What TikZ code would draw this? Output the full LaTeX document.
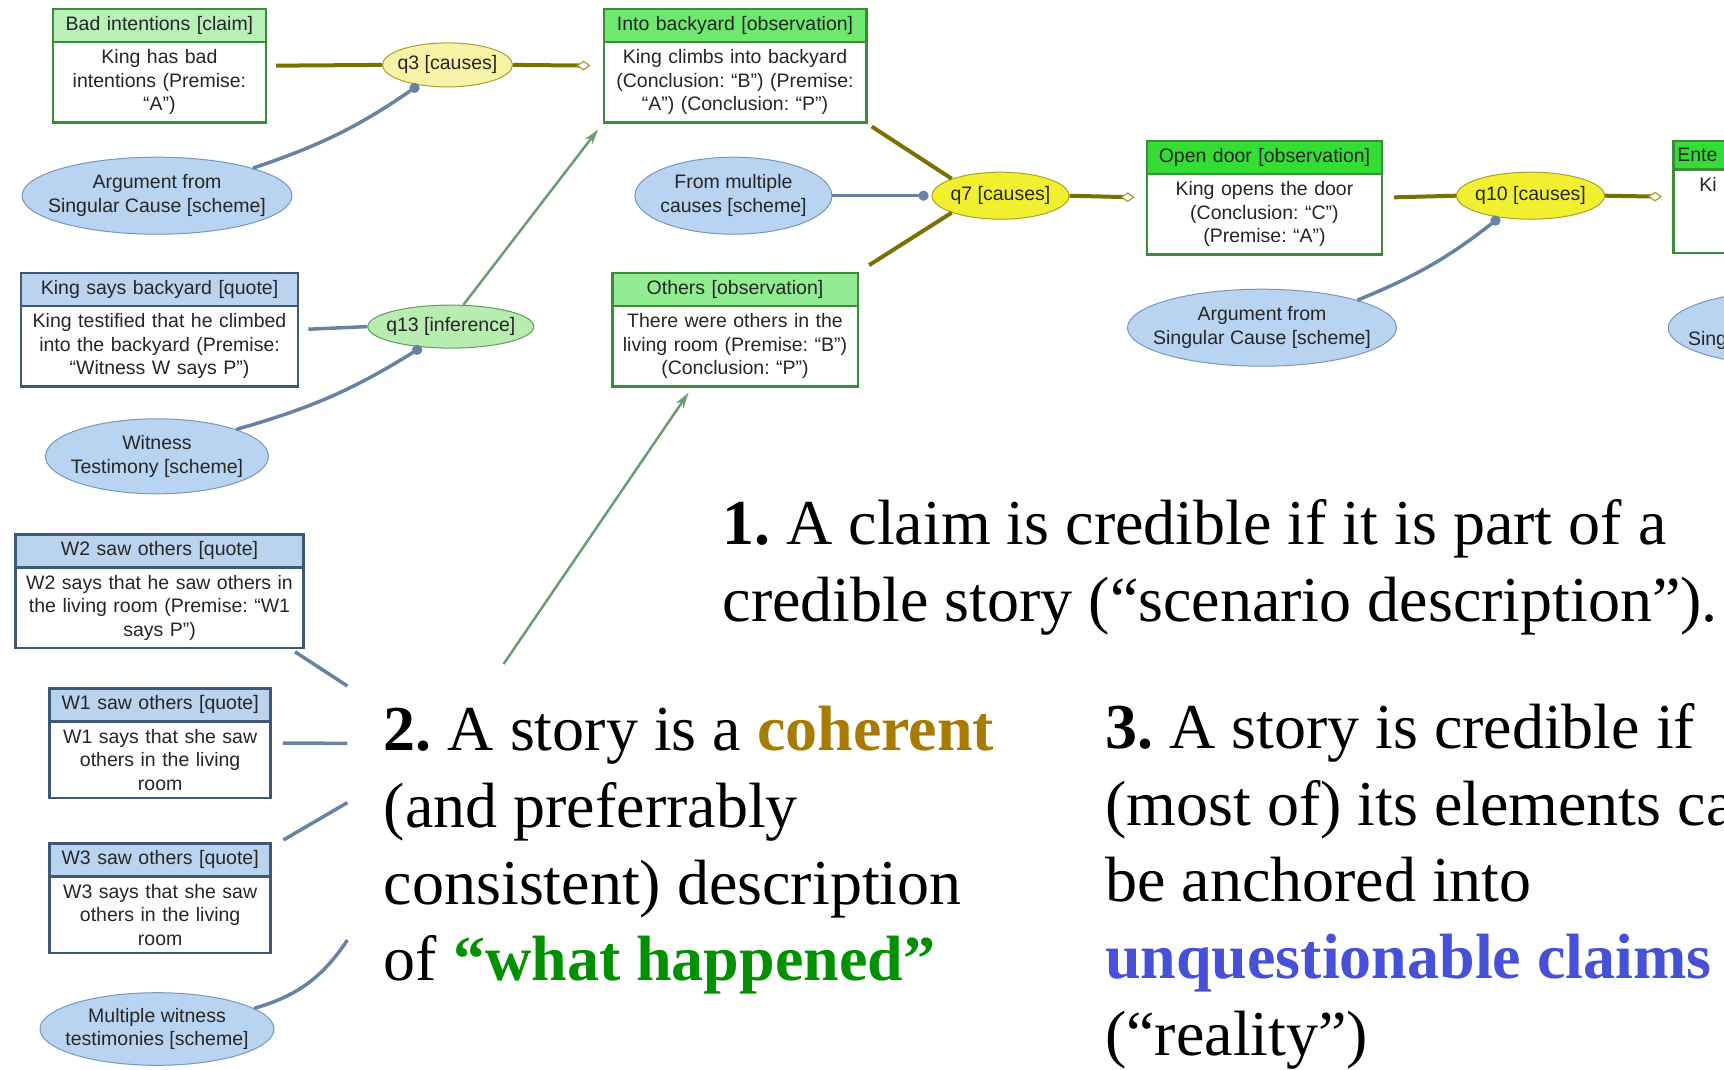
\documentclass[tikz,border=0pt]{standalone}
\usepackage{fontspec}
\setmainfont{Liberation Serif}
\newfontfamily\diagfont{Liberation Sans}
\usepackage{xcolor}
\definecolor{olivelink}{RGB}{122,114,0}
\definecolor{steellink}{RGB}{104,130,164}
\definecolor{greenlink}{RGB}{108,156,116}
\definecolor{claimhead}{RGB}{184,240,184}
\definecolor{obshead}{RGB}{110,232,110}
\definecolor{obsbright}{RGB}{51,221,51}
\definecolor{obslight}{RGB}{146,236,146}
\definecolor{boxgreen}{RGB}{60,140,60}
\definecolor{quotehead}{RGB}{186,212,240}
\definecolor{quoteline}{RGB}{64,88,120}
\definecolor{schemefill}{RGB}{184,212,240}
\definecolor{schemeline}{RGB}{120,150,192}
\definecolor{causepale}{RGB}{246,242,166}
\definecolor{causeyellow}{RGB}{240,240,48}
\definecolor{causeline}{RGB}{170,160,40}
\definecolor{inferfill}{RGB}{184,236,176}
\definecolor{inferline}{RGB}{90,160,90}
\definecolor{coherentcol}{RGB}{168,122,0}
\definecolor{happenedcol}{RGB}{0,144,0}
\definecolor{claimscol}{RGB}{70,80,216}
\usepackage{tikz}
\usetikzlibrary{shapes,arrows.meta,positioning,calc}
\frenchspacing

\begin{document}
\begin{tikzpicture}[
    x=1pt, y=-1pt,
    dfont/.style={font=\diagfont\fontsize{19.5}{23.5}\selectfont, text=black!85},
    storybox/.style={dfont, draw=boxgreen, line width=2.5pt, rectangle split, rectangle split parts=2, rectangle split part fill={#1,white}, inner xsep=4pt, inner ysep=6.3pt, align=center, anchor=north west},
    quotebox/.style={storybox=quotehead, draw=quoteline},
    scheme/.style={dfont, ellipse, draw=schemeline, line width=1pt, fill=schemefill, inner xsep=-20pt, inner ysep=0pt, align=center},
    cause/.style={scheme, fill=#1, draw=causeline},
    infer/.style={scheme, fill=inferfill, draw=inferline},
    causal/.style={draw=olivelink, line width=4pt},
    causalout/.style={causal, -{Diamond[length=14pt, width=10pt, line width=1.2pt, color=causeline, fill=white]}},
    support/.style={draw=steellink, line width=3.5pt, -{Circle[length=10pt]}},
    plainlink/.style={draw=steellink, line width=3.5pt},
    inferlink/.style={draw=greenlink, line width=2.5pt, -{Stealth[length=16pt, width=9pt]}},
    story/.style={font=\fontsize{64}{76.8}\selectfont, align=left, inner sep=0pt, anchor=base west}
]
\useasboundingbox (0,0) rectangle (1724,1069);
\clip (0,0) rectangle (1724,1069);

% Claims and observations
\node[storybox=claimhead, text width=205pt] (badint) at (51.7,7.7) {Bad intentions [claim]\nodepart{two}King has bad\\intentions (Premise:\\“A”)};
\node[storybox=obshead, text width=254.5pt] (intoby) at (602.5,7.7) {Into backyard [observation]\nodepart{two}King climbs into backyard\\(Conclusion: “B”) (Premise:\\“A”) (Conclusion: “P”)};
\node[storybox=obsbright, text width=227pt] (opendoor) at (1145.7,139.6) {Open door [observation]\nodepart{two}King opens the door\\(Conclusion: “C”)\\(Premise: “A”)};
\node[storybox=obsbright, text width=227pt, align=left] (enter) at (1672,139.6) {Ente\nodepart{two}\hspace*{22pt}Ki\\\strut\\\strut};
\node[storybox=obslight, text width=237.5pt] (others) at (611,271.6) {Others [observation]\nodepart{two}There were others in the\\living room (Premise: “B”)\\(Conclusion: “P”)};

% Quotes
\node[quotebox, text width=269pt] (kingsays) at (19.8,271.6) {King says backyard [quote]\nodepart{two}King testified that he climbed\\into the backyard (Premise:\\“Witness W says P”)};
\node[quotebox, text width=280pt] (w2) at (14.3,533) {W2 saw others [quote]\nodepart{two}W2 says that he saw others in\\the living room (Premise: “W1\\says P”)};
\node[quotebox, text width=213pt] (w1) at (48.4,687) {W1 saw others [quote]\nodepart{two}W1 says that she saw\\others in the living\\room};
\node[quotebox, text width=213pt] (w3) at (48.4,842) {W3 saw others [quote]\nodepart{two}W3 says that she saw\\others in the living\\room};

% Schemes
\node[scheme, minimum width=270pt, minimum height=77pt] (argsc1) at (157,195.7) {Argument from\\Singular Cause [scheme]};
\node[scheme, minimum width=197pt, minimum height=77pt] (frommult) at (733.4,195.7) {From multiple\\causes [scheme]};
\node[scheme, minimum width=269pt, minimum height=77pt] (argsc2) at (1262,327.7) {Argument from\\Singular Cause [scheme]};
\node[scheme, minimum width=269pt, minimum height=77pt] (argsc3) at (1802.7,328) {};
\node[dfont, anchor=base west, inner sep=0pt] (argsc3txt) at (1687.8,345) {Sing};
\node[scheme, minimum width=223pt, minimum height=75pt] (witness) at (157,456.3) {Witness\\Testimony [scheme]};
\node[scheme, minimum width=234pt, minimum height=72.6pt] (multwit) at (157,1029) {Multiple witness\\testimonies [scheme]};

% Causes and inference
\node[cause=causepale, minimum width=130pt, minimum height=44pt] (q3) at (447.5,64.9) {q3 [causes]};
\node[cause=causeyellow, minimum width=137pt, minimum height=47pt] (q7) at (1000.5,195.7) {q7 [causes]};
\node[cause=causeyellow, minimum width=148pt, minimum height=47pt] (q10) at (1530.5,195.7) {q10 [causes]};
\node[infer, minimum width=166pt, minimum height=43pt] (q13) at (450.8,326.6) {q13 [inference]};

% Loose ends
\coordinate (w2end) at (347.4,686);
\coordinate (w1end) at (347.4,743.3);
\coordinate (w3end) at (347.4,802.6);
\coordinate (multend) at (347.4,940);
\coordinate (storystart) at (503.6,664);

% Links
\draw[causal, shorten <=9pt] (badint.east) -- (q3.west);
\draw[causalout, shorten >=12pt] (q3.east) -- (intoby.west);
\draw[causal, shorten <=5pt] (intoby.south east) -- (q7.north west);
\draw[causal, shorten <=12pt] (others.north east) -- (q7.south west);
\draw[causalout, shorten >=11pt] (q7.east) -- (opendoor.west);
\draw[causal, shorten <=11pt] (opendoor.east) -- (q10.west);
\draw[causalout, shorten >=10pt] (q10.east) -- (enter.west);

\draw[support] (argsc1.north east) to[bend right=8] (q3.215);
\draw[support] (argsc2.north east) to[bend right=8] (q10.215);
\draw[support] (witness.north east) to[bend right=8] (q13.215);
\draw[support, shorten >=3pt] (frommult.east) -- (q7.west);
\draw[plainlink, shorten <=9pt] (kingsays.east) -- (q13.west);

\draw[inferlink, shorten >=7pt] (q13.60) -- (intoby.south west);
\draw[inferlink, shorten >=6pt] (storystart) -- ([xshift=-43pt]others.south);

\draw[plainlink, shorten <=5pt] ([xshift=-14pt]w2.south east) -- (w2end);
\draw[plainlink, shorten <=11pt] (w1.east) -- (w1end);
\draw[plainlink, shorten <=4pt] ([xshift=8pt]w3.north east) -- (w3end);
\draw[plainlink] (multwit.12) to[bend right=20] (multend);

% Text (base anchor sits on the last line)
\node[story] (point1) at (722.4,621.2) {\textbf{1.} A claim is credible if it is part of a\\credible story (“scenario description”).};
\node[story] (point2) at (383.7,980.8) {\textbf{2.} A story is a \textbf{\color{coherentcol}coherent}\\(and preferrably\\consistent) description\\of \textbf{\color{happenedcol}“what happened”}};
\node[story] (point3) at (1105,1055.5) {\textbf{3.} A story is credible if\\(most of) its elements ca\\be anchored into\\\textbf{\color{claimscol}unquestionable claims}\\(“reality”)};

\end{tikzpicture}
\end{document}
